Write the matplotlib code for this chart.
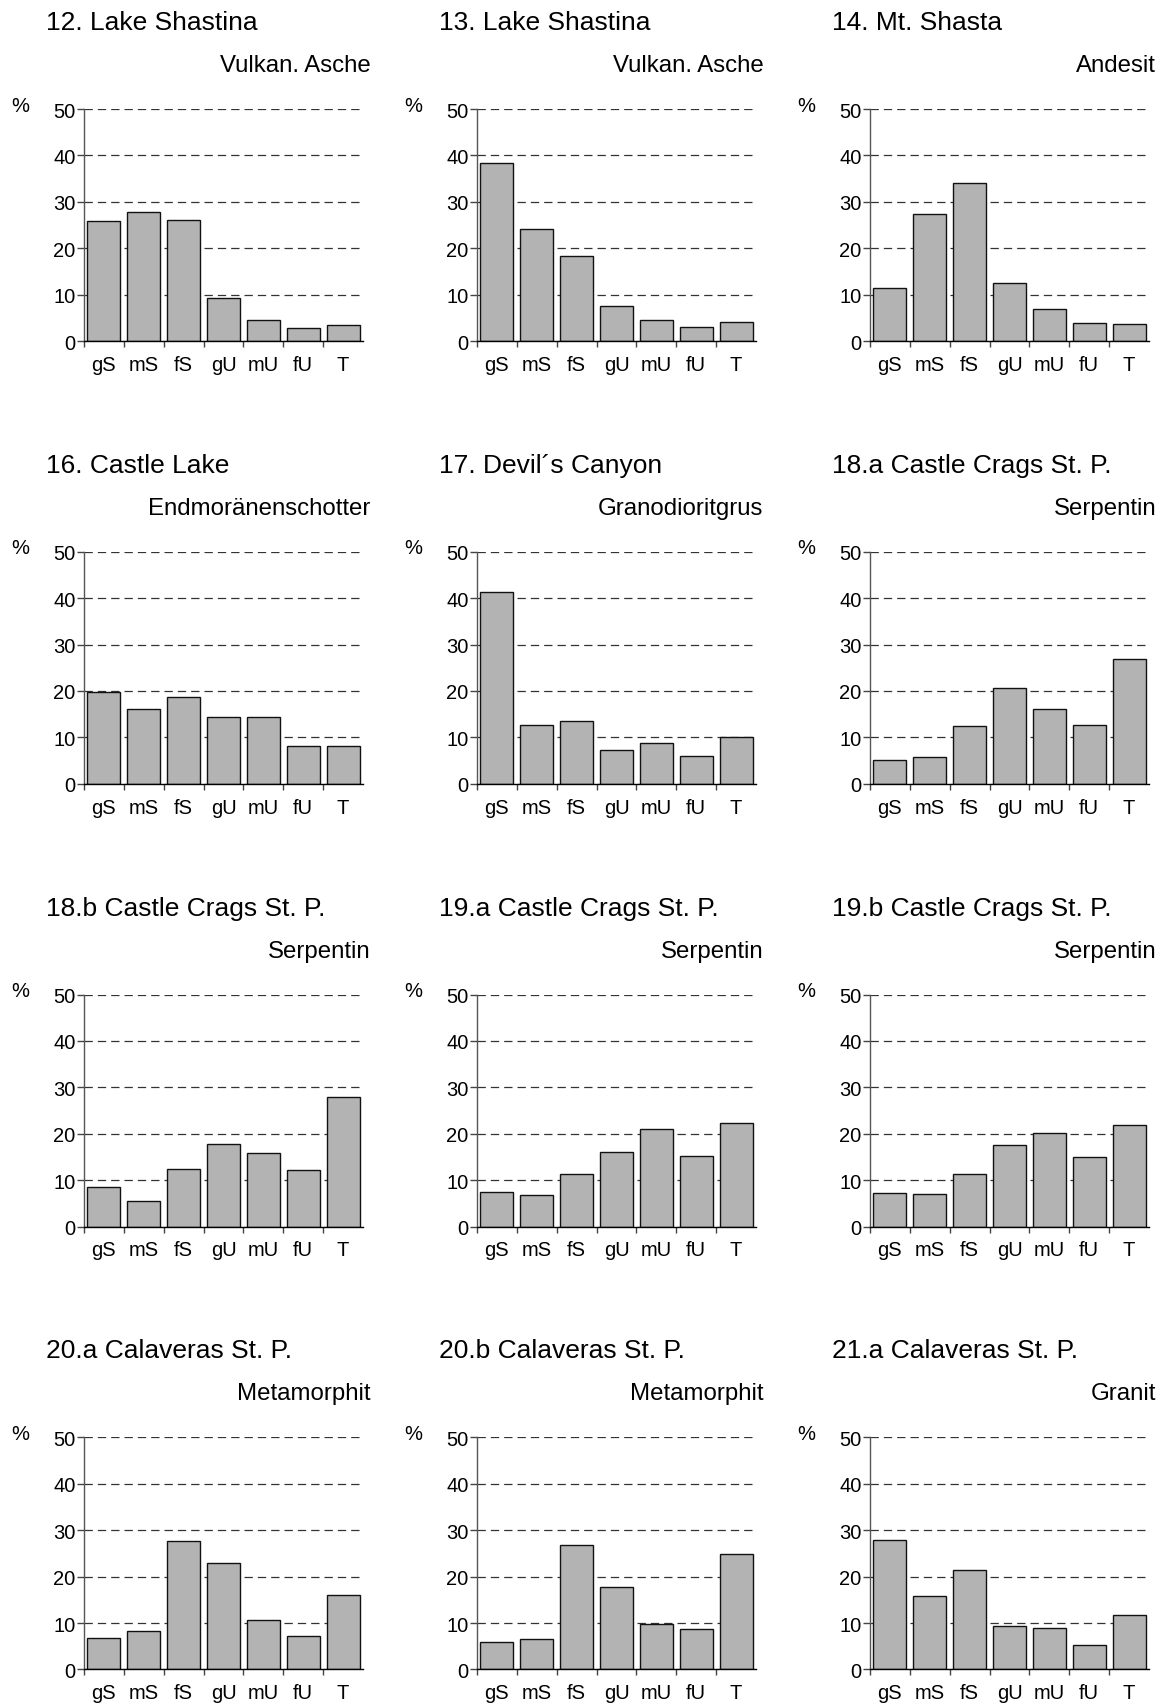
import numpy as np
import matplotlib
matplotlib.use("Agg")
import matplotlib.pyplot as plt

plt.rcParams['font.family'] = ['Liberation Sans', 'DejaVu Sans']
plt.rcParams['lines.scale_dashes'] = False

# Kornfraktionen (Anteil in %)
categories = ["gS", "mS", "fS", "gU", "mU", "fU", "T"]

titles = [
    "12. Lake Shastina", "13. Lake Shastina", "14. Mt. Shasta",
    "16. Castle Lake", "17. Devil\u00b4s Canyon", "18.a Castle Crags St. P.",
    "18.b Castle Crags St. P.", "19.a Castle Crags St. P.", "19.b Castle Crags St. P.",
    "20.a Calaveras St. P.", "20.b Calaveras St. P.", "21.a Calaveras St. P.",
]
substrates = [
    "Vulkan. Asche", "Vulkan. Asche", "Andesit",
    "Endmoränenschotter", "Granodioritgrus", "Serpentin",
    "Serpentin", "Serpentin", "Serpentin",
    "Metamorphit", "Metamorphit", "Granit",
]

v12 = [25.9, 27.8, 26.1, 9.3, 4.45, 2.8, 3.45]
v13 = [38.3, 24.1, 18.4, 7.5, 4.45, 3.0, 4.2]
v14 = [11.35, 27.3, 34.0, 12.6, 7.0, 3.9, 3.65]
v16 = [19.7, 16.2, 18.7, 14.5, 14.3, 8.1, 8.2]
v17 = [41.4, 12.7, 13.5, 7.3, 8.8, 6.0, 10.1]
v18a = [5.1, 5.75, 12.4, 20.7, 16.1, 12.7, 27.0]
v18b = [8.5, 5.5, 12.4, 17.8, 15.9, 12.2, 27.9]
v19a = [7.5, 6.8, 11.3, 16.0, 21.1, 15.3, 22.4]
v19b = [7.2, 7.05, 11.3, 17.55, 20.1, 15.0, 22.0]
v20a = [6.8, 8.25, 27.6, 23.0, 10.6, 7.2, 16.1]
v20b = [6.0, 6.55, 26.9, 17.8, 9.8, 8.7, 24.8]
v21a = [27.9, 15.75, 21.5, 9.35, 9.0, 5.25, 11.8]

values = [v12, v13, v14, v16, v17, v18a, v18b, v19a, v19b, v20a, v20b, v21a]

W, H = 1166, 1706
fig = plt.figure(figsize=(W / 100, H / 100), dpi=100)

x = np.arange(len(categories))
for i, vals in enumerate(values):
    r, c = divmod(i, 3)
    left = 84 + 393 * c
    bottom_px = 342 + 442.8 * r
    ax = fig.add_axes([left / W, 1 - bottom_px / H, 279 / W, 232 / H])

    ax.bar(x, vals, width=0.83, color='#b3b3b3', edgecolor='#111111', linewidth=1.0, zorder=2)
    ax.set_xlim(-0.5, 6.5)
    ax.set_ylim(0, 50)
    ax.set_yticks([0, 10, 20, 30, 40, 50])
    ax.yaxis.grid(True, linestyle=(0, (6, 3.6)), color='#333333', linewidth=0.9)
    ax.set_axisbelow(True)

    ax.set_xticks(x)
    ax.set_xticklabels(categories)
    ax.set_xticks(np.arange(-0.5, 6.0, 1.0), minor=True)
    ax.tick_params(axis='x', which='major', length=0, pad=10, labelsize=14.5)
    ax.tick_params(axis='x', which='minor', length=4.5, width=1.0, direction='out', color='#444444')
    ax.tick_params(axis='y', length=5, width=1.0, pad=1, labelsize=14.5, color='#444444')

    for s in ['top', 'right']:
        ax.spines[s].set_visible(False)
    ax.spines['left'].set_color('#555555')
    ax.spines['left'].set_linewidth(1.0)
    ax.spines['bottom'].set_color('#000000')
    ax.spines['bottom'].set_linewidth(1.0)

    ax.text(-0.136, 1.345, titles[i], transform=ax.transAxes, fontsize=19,
            ha='left', va='baseline')
    ax.text(1.026, 1.164, substrates[i], transform=ax.transAxes, fontsize=17.3,
            ha='right', va='baseline')
    ax.text(-0.229, 1.017, "%", transform=ax.transAxes, fontsize=14.5,
            ha='center', va='center')

fig.savefig("out.png", dpi=100)
